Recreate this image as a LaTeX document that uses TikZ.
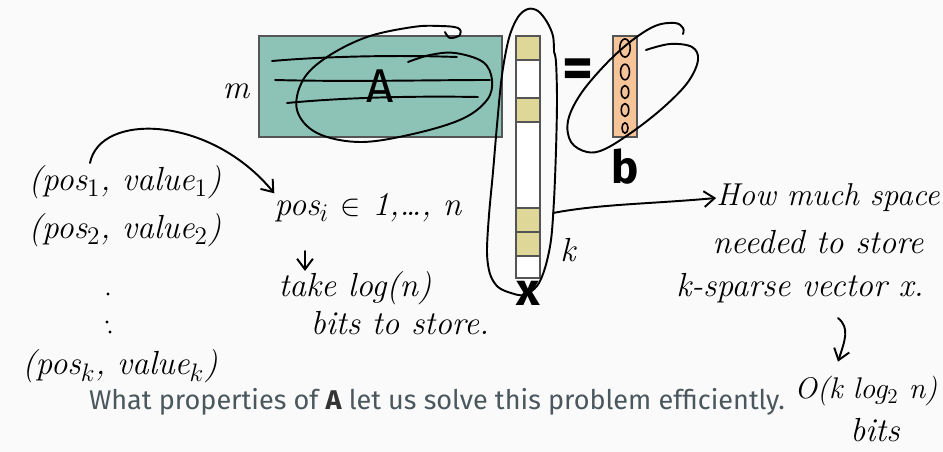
\documentclass[tikz,border=0pt]{standalone}
\usepackage{fontspec}
\setsansfont{Fira Sans}
\usetikzlibrary{arrows.meta,positioning}
\definecolor{matteal}{HTML}{8DC3B7}
\definecolor{cellyellow}{HTML}{DFD797}
\definecolor{vecorange}{HTML}{F5C499}
\definecolor{slidebg}{HTML}{FAFAFA}
\definecolor{captiongray}{HTML}{4A585D}
\definecolor{edgegray}{HTML}{555555}

\begin{document}
\begin{tikzpicture}[
  x=0.02cm, y=-0.02cm,
  ink/.style={line width=1.1pt, line cap=round, line join=round, draw=black},
  hand/.style={font=\fontsize{19}{22}\selectfont\itshape, inner sep=0pt},
  boxlabel/.style={font=\sffamily\fontsize{26}{30}\selectfont\bfseries, inner sep=0pt},
  cellbox/.style={draw=edgegray, line width=0.8pt},
  barb/.style={-{Straight Barb[length=6pt, width=9pt]}}
]
  \fill[slidebg] (0,0) rectangle (943,452);
  \useasboundingbox (0,0) rectangle (943,452);

  % matrix, vectors
  \node[draw=edgegray, fill=matteal, line width=0.8pt, minimum width=4.86cm, minimum height=2.02cm, boxlabel, font=\sffamily\fontsize{27}{30}\selectfont] (A) at (380.5,86.5) {A};
  \foreach \ya/\yb/\c in {36/60/cellyellow, 60/98/white, 98/122/cellyellow, 122/208/white, 208/232/cellyellow, 232/256/cellyellow, 256/278/white}
    \draw[cellbox, fill=\c] (516,\ya) rectangle (540,\yb);
  \node[boxlabel] (xlab) at (528,293) {x};
  \node[boxlabel, font=\sffamily\fontsize{34}{36}\selectfont\bfseries] (eq) at (578,74) {=};
  \node[draw=edgegray, fill=vecorange, line width=0.8pt, minimum width=0.48cm, minimum height=2.02cm] (b) at (625,86.5) {};
  \node[boxlabel, below=0.22cm of b] (blab) {b};

  % entries of b
  \foreach \yy/\r in {48/7, 72/6, 92/5, 110/5, 128/4}
    \draw[ink, line width=0.9pt] (625,\yy) ellipse ({\r*0.75} and \r*1.3);

  % scribbles over A
  \draw[ink] (272,61) .. controls (330,56) and (400,55) .. (457,57);
  \draw[ink] (275,80) .. controls (350,82) and (430,80) .. (490,80);
  \draw[ink] (287,103) .. controls (350,97) and (420,96) .. (478,97);
  \draw[ink] plot[smooth, tension=0.6] coordinates {(408,62) (430,55) (455,53) (483,62) (492,80) (487,100) (462,119) (413,134) (360,142) (317,133) (297,110) (303,80) (327,57) (367,37) (413,27) (440,26) (458,28) (460,35) (450,38) (445,32)};

  % loop round x
  \draw[ink] plot[smooth, tension=0.55] coordinates {(554,52) (553,36) (547,22) (538,11) (528,9) (518,17) (509,38) (502,75) (497,125) (493,172) (489,215) (487,252) (490,274) (498,287) (511,293) (524,295) (537,286) (545,268) (551,240) (554,200) (556,150) (557,100) (556,62) (554,52)};
  \coordinate (loopR) at (553,213);

  % loop round b
  \draw[ink] plot[smooth, tension=0.6] coordinates {(646,50) (670,44) (692,47) (698,60) (688,82) (665,106) (635,130) (605,149) (587,152) (571,142) (568,121) (580,95) (604,66) (630,42) (655,26) (675,23) (683,28) (683,34)};

  % left notes
  \node[hand] (m) at (236,91) {m};
  \node[hand] (p1) at (125,182) {(pos$_1$, value$_1$)};
  \node[hand] (p2) at (125,230) {(pos$_2$, value$_2$)};
  \foreach \dx/\dy in {108/294, 107/322, 110/332}
    \fill (\dx,\dy) circle (1.6);
  \node[hand] (pk) at (120,366) {(pos$_k$, value$_k$)};
  \node[hand] (posi) at (368,208) {pos$_i$ $\in$ 1,\dots, n};
  \node[hand] (take) at (355,288) {take log(n)};
  \node[hand] (bits1) at (400,323) {bits to store.};
  \coordinate (p1top) at (90,163);
  \draw[ink, barb] (p1top) .. controls (100,112) and (210,115) .. (posi.north west);
  \coordinate (d1) at (305,251);
  \draw[ink, barb] (d1) -- (d1 |- take.north);

  % right notes
  \node[hand] (klab) at (568,250) {k};
  \node[hand, font=\fontsize{18}{22}\selectfont\itshape] (space) at (828,198) {How much space};
  \node[hand] (need) at (818,242) {needed to store};
  \node[hand] (ksp) at (800,288) {k-sparse vector x.};
  \node[hand, font=\fontsize{17}{20}\selectfont\itshape] (ocost) at (866,391) {O(k log$_2$ n)};
  \node[hand] (bits2) at (875,430) {bits};
  \draw[ink, barb] (loopR) .. controls (600,204) and (650,204) .. (space.west);
  \coordinate (d2) at (838,318);
  \draw[ink, barb] (d2) .. controls (850,328) and (845,340) .. ([yshift=8pt]d2 |- ocost.north);

  % question
  \node[font=\sffamily\fontsize{15.4}{18}\selectfont, text=captiongray, inner sep=0pt] (question) at (437,402) {What properties of \textcolor{black!80}{\bfseries A} let us solve this problem efficiently.};
\end{tikzpicture}
\end{document}
